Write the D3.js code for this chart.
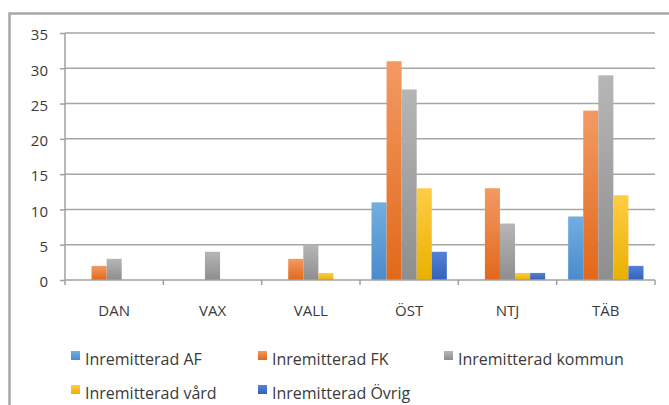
<!DOCTYPE html>
<html>
<head>
<meta charset="utf-8">
<script src="https://cdn.jsdelivr.net/npm/d3@7"></script>
<style>
  body { margin: 0; background: #fff; }
  svg { display: block; }
  text { font-family: "Open Sans", Lato, sans-serif; fill: #3a3a3a; }
</style>
</head>
<body>
<svg id="chart"></svg>
<script>
// data
const categories = ["DAN", "VAX", "VALL", "ÖST", "NTJ", "TÄB"];
const seriesNames = ["Inremitterad AF", "Inremitterad FK", "Inremitterad kommun", "Inremitterad vård", "Inremitterad Övrig"];
const af      = [0, 0, 0, 11, 0, 9];
const fk      = [2, 0, 3, 31, 13, 24];
const kommun  = [3, 4, 5, 27, 8, 29];
const vard    = [0, 0, 1, 13, 1, 12];
const ovrig   = [0, 0, 0, 4, 1, 2];
const yTicks  = [0, 5, 10, 15, 20, 25, 30, 35];

const seriesValues = [af, fk, kommun, vard, ovrig];
// [top colour, bottom colour] for each series gradient
const colors = [
  ["#72aee0", "#4a8bcc"],
  ["#f29a63", "#e2681a"],
  ["#b6b6b6", "#8e8e8e"],
  ["#ffcd45", "#eab000"],
  ["#5382d6", "#3461b9"]
];

const W = 669, H = 405;
const FONT = "'Open Sans', Lato, sans-serif";
const svg = d3.select("#chart").attr("width", W).attr("height", H);

// gradients for the bars
const defs = svg.append("defs");
colors.forEach((c, i) => {
  const g = defs.append("linearGradient")
    .attr("id", "grad" + i)
    .attr("x1", 0).attr("y1", 0).attr("x2", 0).attr("y2", 1);
  g.append("stop").attr("offset", "0%").attr("stop-color", c[0]);
  g.append("stop").attr("offset", "100%").attr("stop-color", c[1]);
});

// frame: only top and left edges show in the crop
svg.append("path")
  .attr("d", `M9.5,${H} V13.5 H${W}`)
  .attr("fill", "none")
  .attr("stroke", "#a8a8a8")
  .attr("stroke-width", 2.5);

const plotLeft = 65, plotRight = 655, plotTop = 33, plotBottom = 280;

const y = d3.scaleLinear().domain([0, 35]).range([plotBottom, plotTop]);
const x0 = d3.scaleBand().domain(categories).range([plotLeft, plotRight]).padding(0);
const x1 = d3.scaleBand().domain(d3.range(seriesNames.length))
  .range([11.5, x0.bandwidth() - 11.5]).padding(0);

// gridlines
svg.append("g")
  .selectAll("line")
  .data(yTicks.filter(d => d > 0))
  .join("line")
  .attr("x1", plotLeft).attr("x2", plotRight)
  .attr("y1", d => y(d)).attr("y2", d => y(d))
  .attr("stroke", "#a6a6a6")
  .attr("stroke-width", 1.5);

// y axis
const yAxis = svg.append("g")
  .attr("transform", `translate(${plotLeft},0)`)
  .call(d3.axisLeft(y).tickValues(yTicks).tickSize(5).tickPadding(12));
yAxis.selectAll("line, path").attr("stroke", "#a0a0a0").attr("stroke-width", 1.5);
yAxis.select(".domain").attr("d", `M0,${plotBottom}V${plotTop}`);
yAxis.selectAll("text")
  .attr("font-family", FONT)
  .attr("font-size", 15)
  .attr("fill", "#3a3a3a")
  .attr("dy", "0.45em");

// bars
const groups = svg.append("g")
  .selectAll("g")
  .data(categories)
  .join("g")
  .attr("transform", d => `translate(${x0(d)},0)`);

groups.selectAll("rect")
  .data((c, ci) => seriesValues.map((vals, si) => ({ si, v: vals[ci] })))
  .join("rect")
  .attr("x", d => x1(d.si))
  .attr("width", x1.bandwidth())
  .attr("y", d => y(d.v))
  .attr("height", d => y(0) - y(d.v))
  .attr("fill", d => `url(#grad${d.si})`);

// x axis with ticks at category boundaries
const xAxis = svg.append("g")
  .attr("transform", `translate(0,${plotBottom})`);
xAxis.append("line")
  .attr("x1", plotLeft).attr("x2", plotRight)
  .attr("stroke", "#a0a0a0").attr("stroke-width", 1.5);
xAxis.selectAll("line.tick")
  .data(categories.map(c => x0(c)).concat([plotRight]))
  .join("line")
  .attr("class", "tick")
  .attr("x1", d => d).attr("x2", d => d)
  .attr("y1", 0).attr("y2", 5)
  .attr("stroke", "#a0a0a0").attr("stroke-width", 1.5);
xAxis.selectAll("text")
  .data(categories)
  .join("text")
  .attr("x", d => x0(d) + x0.bandwidth() / 2)
  .attr("y", 36)
  .attr("text-anchor", "middle")
  .attr("font-size", 15)
  .text(d => d);

// legend
const legendPos = [[71, 351], [258, 351], [444, 351], [71, 385], [258, 385]];
const legend = svg.append("g")
  .selectAll("g")
  .data(seriesNames)
  .join("g")
  .attr("transform", (d, i) => `translate(${legendPos[i][0]},${legendPos[i][1]})`);
legend.append("rect")
  .attr("width", 9).attr("height", 9)
  .attr("fill", (d, i) => `url(#grad${i})`);
legend.append("text")
  .attr("x", 14)
  .attr("y", 13.5)
  .attr("font-size", 16)
  .text(d => d);
</script>
</body>
</html>
